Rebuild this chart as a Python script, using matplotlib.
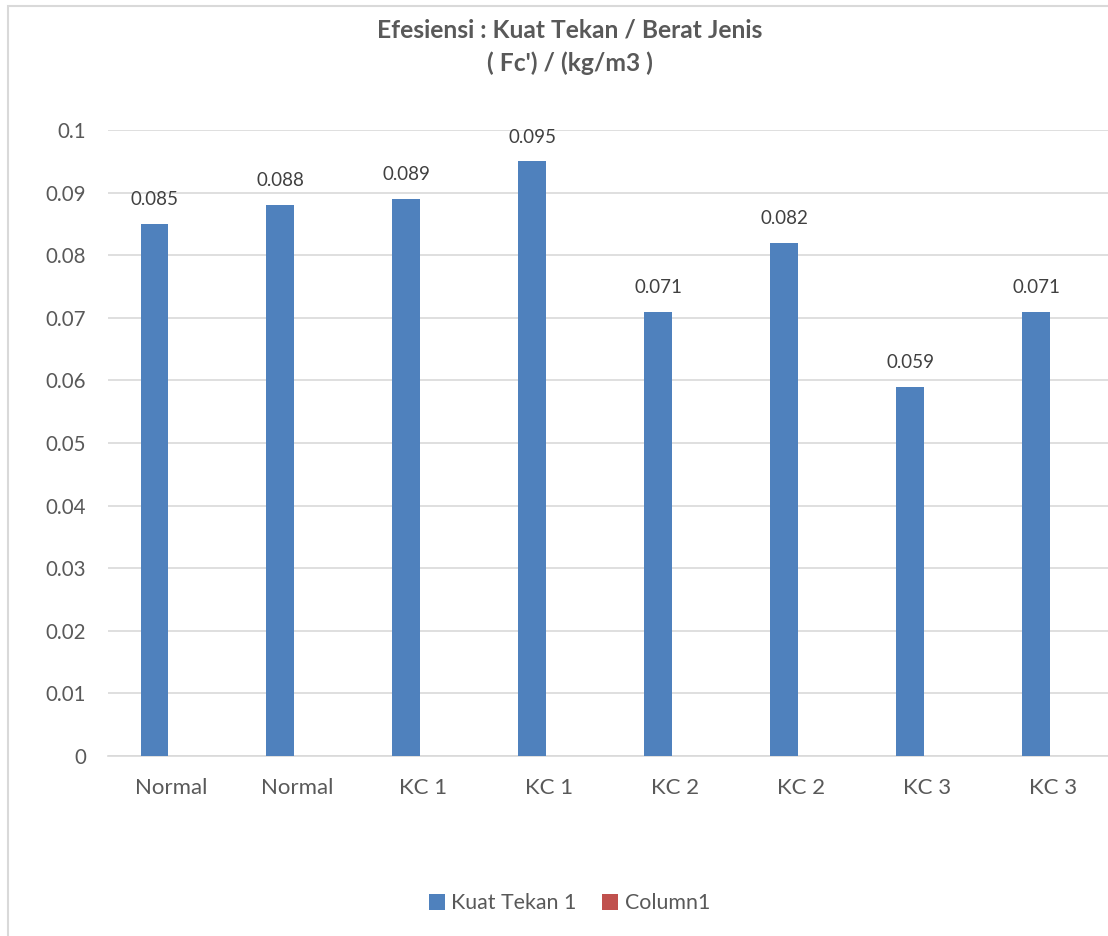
import numpy as np
import matplotlib.pyplot as plt
from matplotlib.patches import Rectangle

plt.rcParams['font.family'] = ['Lato', 'DejaVu Sans']

categories = ['Normal', 'Normal', 'KC 1', 'KC 1', 'KC 2', 'KC 2', 'KC 3', 'KC 3']
kuat_tekan = [0.085, 0.088, 0.089, 0.095, 0.071, 0.082, 0.059, 0.071]
column1 = [0, 0, 0, 0, 0, 0, 0, 0]

blue = '#4F81BD'
red = '#C0504D'
text_col = '#595959'
grid_col = '#D9D9D9'

fig = plt.figure(figsize=(11.08, 9.36), dpi=100)
ax = fig.add_axes([0.0975, 0.1923, 0.9095, 0.6688])

x = np.arange(len(categories))
w = 0.222
b1 = ax.bar(x - w / 2 - 0.02, kuat_tekan, w, color=blue, label='Kuat Tekan 1', zorder=3)
ax.bar(x + w / 2 - 0.02, column1, w, color=red, label='Column1', zorder=3)

for rect, v in zip(b1, kuat_tekan):
    ax.text(rect.get_x() + rect.get_width() / 2, v + 0.0025, f'{v:g}',
            ha='center', va='bottom', fontsize=13.5, color='#404040')

ax.set_xlim(-0.5, len(categories) - 0.5)
ax.set_ylim(0, 0.1)
ax.set_yticks(np.arange(0, 0.11, 0.01))
ax.set_yticklabels(['0'] + [f'{v:g}' for v in np.arange(0.01, 0.11, 0.01).round(2)])
ax.set_xticks(x)
ax.set_xticklabels(categories, fontsize=16)
ax.tick_params(axis='both', length=0, colors=text_col)
ax.tick_params(axis='y', labelsize=14.8, pad=16)
ax.tick_params(axis='x', pad=16)
ax.grid(axis='y', color=grid_col, linewidth=1.2, zorder=0)
for s in ['top', 'right', 'left']:
    ax.spines[s].set_visible(False)
ax.spines['bottom'].set_color(grid_col)
ax.spines['bottom'].set_linewidth(1.2)

fig.text(0.514, 0.98, "Efesiensi : Kuat Tekan / Berat Jenis\n( Fc') / (kg/m3 )",
         ha='center', va='top', fontsize=17.7, fontweight='bold', color=text_col,
         linespacing=1.5)

fig.legend(loc='center', bbox_to_anchor=(0.514, 0.035), ncol=2, frameon=False,
           fontsize=15.4, handlelength=0.75, handleheight=0.75, handletextpad=0.3,
           columnspacing=1.2, labelcolor=text_col)

# chart frame
fig.patches.append(Rectangle((0.007, -0.01), 1.1, 1.0035, transform=fig.transFigure,
                             fill=False, edgecolor=grid_col, linewidth=1.5))

fig.savefig('out.png', dpi=100)
